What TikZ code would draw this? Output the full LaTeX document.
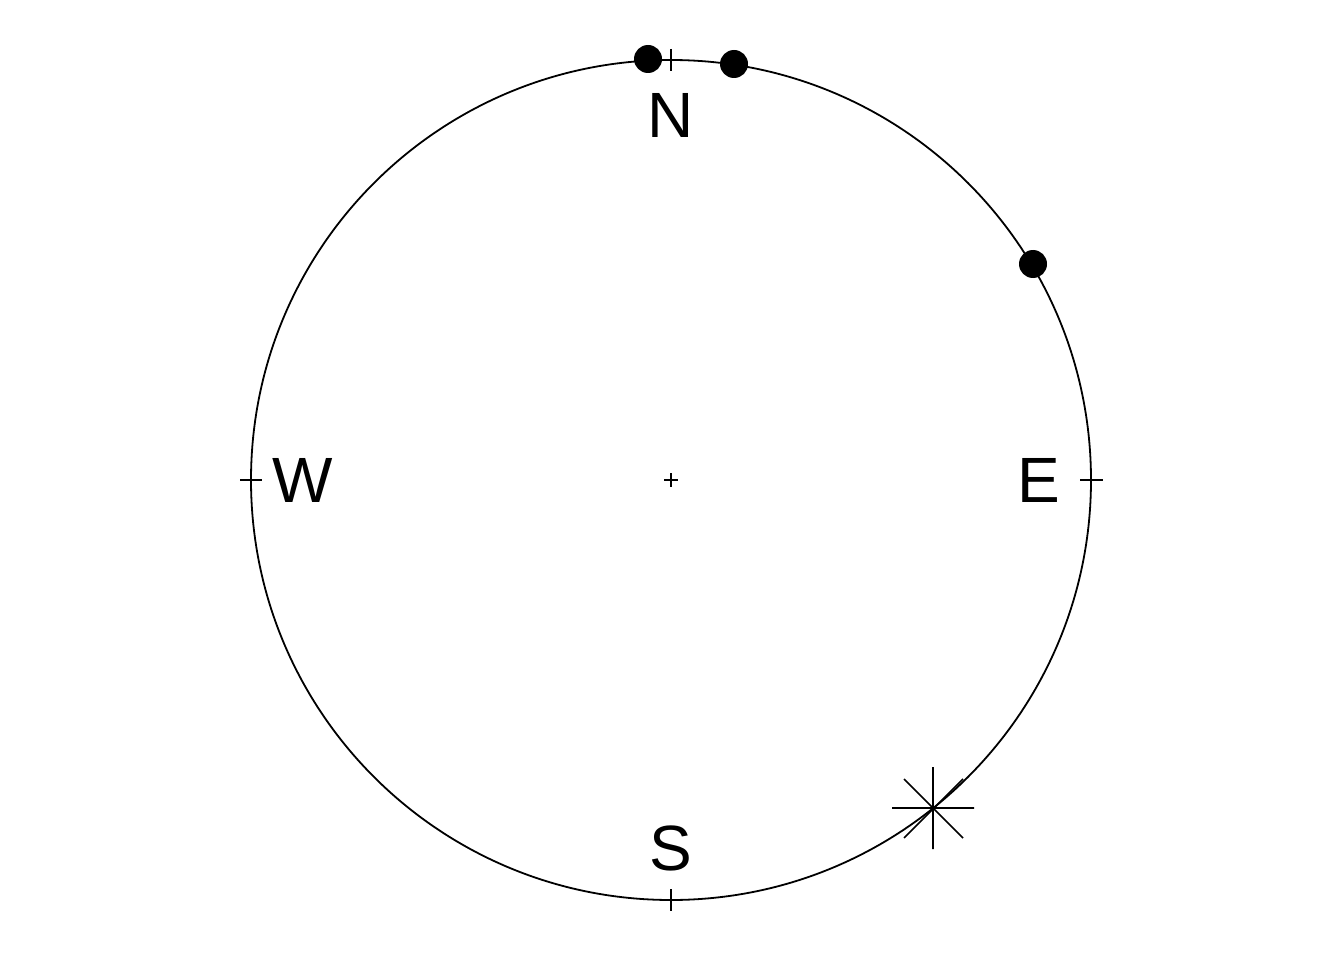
\documentclass[tikz,border=0pt]{standalone}
\usepackage{fontspec}
\setmainfont{Liberation Sans}
\begin{document}
\begin{tikzpicture}[x=1pt,y=-1pt,
  ring/.style={line width=1.8pt},
  tick/.style={line width=1.5pt},
  dot/.style={circle,fill=black,inner sep=0pt,minimum size=28pt},
  lbl/.style={font=\fontsize{64}{64}\selectfont,inner sep=0pt},
  starline/.style={line width=1.6pt}]
\useasboundingbox (0,0) rectangle (1344,960);
\coordinate (C) at (671,480);
\draw[ring] (C) circle[radius=420];
% ticks
\draw[tick] (671,49) -- (671,71);
\draw[tick] (671,889) -- (671,911);
\draw[tick] (240,480) -- (262,480);
\draw[tick] (1080,480) -- (1103,480);
\draw[tick] (664,480) -- (678,480) (671,473) -- (671,487);
% labels
\node[lbl] (N) at (671,115) {N};
\node[lbl] (S) at (671,848) {S};
\node[lbl] (W) at (303,480) {W};
\node[lbl] (E) at (1039,480) {E};
% dots
\node[dot] (d1) at (648,59) {};
\node[dot] (d2) at (734,64) {};
\node[dot] (d3) at (1033,264) {};
% star
\coordinate (st) at (933,808);
\draw[starline] (933,767) -- (933,849)
  (892,808) -- (974,808)
  (904,779) -- (963,838)
  (904,838) -- (963,779);
\end{tikzpicture}
\end{document}
